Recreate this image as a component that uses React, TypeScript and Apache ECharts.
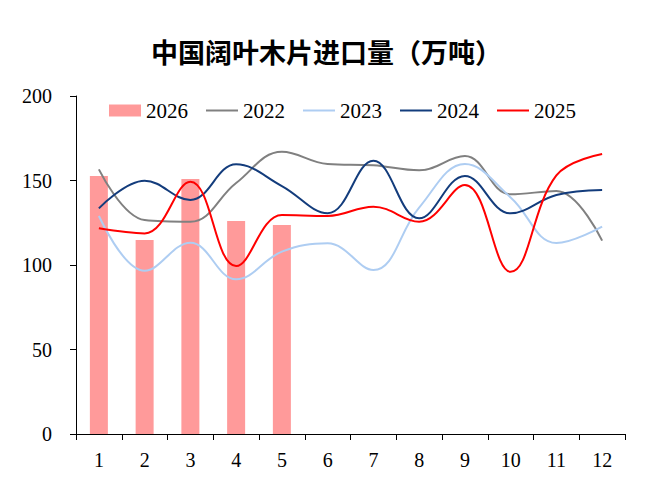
import React, { useEffect, useRef } from "react";
import * as echarts from "echarts";

const months = ["1", "2", "3", "4", "5", "6", "7", "8", "9", "10", "11", "12"];
const yTicks = [0, 50, 100, 150, 200];
const s2026 = [152.7, 114.8, 150.9, 126, 123.7];
const s2022 = [156.6, 126.6, 125.6, 148.5, 167, 159.8, 159, 156, 164.5, 141.8, 143.8, 114.4];
const s2023 = [129, 96.6, 113.2, 91.5, 107.9, 112.8, 97, 134, 159.8, 140, 113, 122.7];
const s2024 = [133.5, 149.9, 138.5, 159.6, 146.7, 130.6, 161.7, 127.6, 152.7, 130.6, 141.4, 144.4];
const s2025 = [121.7, 118.7, 149.3, 99.4, 129.6, 129, 134.5, 125.6, 147.3, 96, 153, 165.7];

const serif = "'Liberation Serif', 'Times New Roman', serif";

export default function App() {
  const ref = useRef<HTMLDivElement>(null);
  useEffect(() => {
    if (!ref.current) return;
    const chart = echarts.init(ref.current, null, { renderer: "svg" });
    const line = (name: string, data: number[], color: string) => ({
      name,
      type: "line",
      data,
      smooth: 0.4,
      symbol: "none",
      z: 3,
      lineStyle: { color, width: 2 },
      itemStyle: { color },
    });
    const lineItem = (name: string) => ({
      name,
      itemStyle: { opacity: 0 },
    });
    chart.setOption({
      animation: false,
      backgroundColor: "#fff",
      textStyle: { fontFamily: serif },
      title: {
        text: "中国阔叶木片进口量（万吨）",
        left: 146,
        top: 33,
        textStyle: {
          fontFamily: "Noto Sans CJK SC",
          fontSize: 27,
          fontWeight: "bold",
          color: "#000",
        },
      },
      legend: {
        left: 104,
        top: 95,
        itemWidth: 32,
        itemHeight: 12,
        itemGap: 17,
        formatter: "{t|{name}}",
        textStyle: {
          fontFamily: serif,
          fontSize: 21,
          color: "#000",
          rich: { t: { fontFamily: serif, fontSize: 21, color: "#000" } },
        },
        data: [
          { name: "2026", icon: "rect" },
          lineItem("2022"),
          lineItem("2023"),
          lineItem("2024"),
          lineItem("2025"),
        ],
      },
      grid: { left: 76, right: 24, top: 96, bottom: 62 },
      xAxis: {
        type: "category",
        data: months,
        boundaryGap: true,
        axisLine: { lineStyle: { color: "#000", width: 1 } },
        axisTick: { show: true, length: 6, lineStyle: { color: "#000" } },
        axisLabel: { fontFamily: serif, fontSize: 20, color: "#000", margin: 16 },
      },
      yAxis: {
        type: "value",
        min: yTicks[0],
        max: yTicks[yTicks.length - 1],
        interval: 50,
        splitLine: { show: false },
        axisLine: { show: true, lineStyle: { color: "#000", width: 1 } },
        axisTick: { show: true, length: 6, lineStyle: { color: "#000" } },
        axisLabel: { fontFamily: serif, fontSize: 20, color: "#000", margin: 24 },
      },
      series: [
        {
          name: "2026",
          type: "bar",
          data: s2026,
          barWidth: 18,
          z: 2,
          itemStyle: { color: "#FF9A9A" },
        },
        line("2022", s2022, "#808080"),
        line("2023", s2023, "#AECDF2"),
        line("2024", s2024, "#133C7C"),
        line("2025", s2025, "#FF0000"),
      ],
    });
    return () => chart.dispose();
  }, []);
  return (
    <div
      ref={ref}
      style={{ position: "fixed", left: 0, top: 0, width: 649, height: 496, background: "#fff" }}
    />
  );
}
